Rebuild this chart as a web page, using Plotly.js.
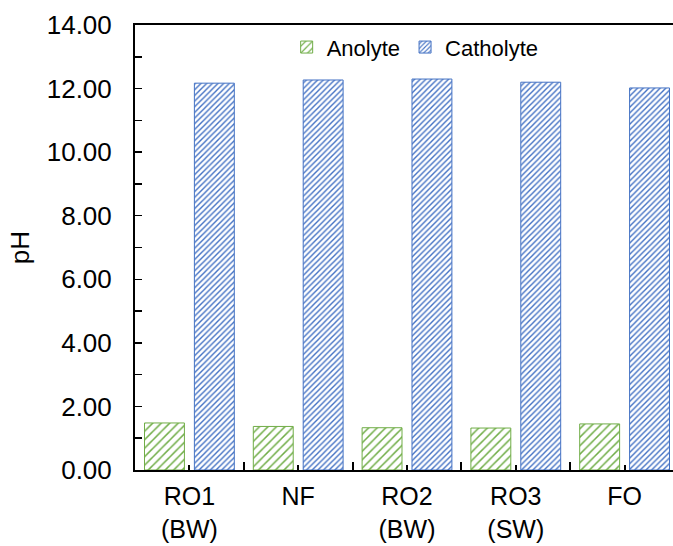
<!DOCTYPE html>
<html>
<head>
<meta charset="utf-8">
<script src="https://cdn.plot.ly/plotly-3.0.1.min.js"></script>
<style>
html, body { margin: 0; padding: 0; overflow: hidden; background: #fff; }
#chart { width: 700px; height: 546px; }
</style>
</head>
<body>
<div id="chart"></div>
<script>
const categories = ["RO1<br>(BW)", "NF", "RO2<br>(BW)", "RO3<br>(SW)", "FO"];
const anolyte = [1.48, 1.37, 1.33, 1.32, 1.45];
const catholyte = [12.17, 12.27, 12.30, 12.20, 12.02];
const yTicks = [0, 2, 4, 6, 8, 10, 12, 14];

const idx = categories.map((c, i) => i);
const alias = {};
categories.forEach((c, i) => { alias[String(i)] = c; });
const font = "Liberation Sans, Arial, sans-serif";

const traces = [
  {
    type: "bar", name: "Anolyte", x: idx, y: anolyte,
    marker: {
      color: "#ffffff",
      line: { color: "#70AD47", width: 1 },
      pattern: { shape: "/", fgcolor: "#70AD47", bgcolor: "#ffffff", size: 6, solidity: 0.25 }
    }
  },
  {
    type: "bar", name: "Catholyte", x: idx, y: catholyte,
    marker: {
      color: "#ffffff",
      line: { color: "#4472C4", width: 1 },
      pattern: { shape: "/", fgcolor: "#4472C4", bgcolor: "#ffffff", size: 4, solidity: 0.35 }
    }
  }
];

const layout = {
  width: 700, height: 546,
  margin: { l: 135, r: 21, t: 25, b: 76 },
  paper_bgcolor: "#fff", plot_bgcolor: "#fff",
  font: { family: font, color: "#000", size: 26 },
  barmode: "group", bargap: 0.083, bargroupgap: 0.2,
  showlegend: true,
  legend: {
    orientation: "h", x: 0.515, y: 0.95, xanchor: "center", yanchor: "middle",
    font: { family: font, size: 22, color: "#000" }, bgcolor: "rgba(0,0,0,0)",
    itemwidth: 30
  },
  xaxis: {
    range: [-0.5, 4.5],
    tickmode: "linear", tick0: 0, dtick: 1, labelalias: alias,
    ticks: "inside", ticklen: 5, tickwidth: 2, tickcolor: "#000",
    minor: { ticks: "inside", tick0: 0, dtick: 0.5, ticklen: 8, tickwidth: 2, tickcolor: "#000" },
    showline: true, linecolor: "#000", linewidth: 2, mirror: true,
    showgrid: false, zeroline: false, ticklabelstandoff: 3,
    tickfont: { family: font, size: 25, color: "#000" }
  },
  yaxis: {
    range: [0, 14],
    tickmode: "array", tickvals: yTicks, tickformat: ".2f",
    ticks: "inside", ticklen: 7, tickwidth: 1.5, tickcolor: "#000",
    minor: { ticks: "inside", dtick: 1, ticklen: 7, tickwidth: 1.5, tickcolor: "#000" },
    showline: true, linecolor: "#000", linewidth: 2, mirror: false,
    showgrid: false, zeroline: false, ticklabelstandoff: 16,
    tickfont: { family: font, size: 26, color: "#000" },
    title: { text: "pH", font: { family: font, size: 26, color: "#000" }, standoff: 10 }
  }
};

Plotly.newPlot("chart", traces, layout, { staticPlot: true, displayModeBar: false });
</script>
</body>
</html>
